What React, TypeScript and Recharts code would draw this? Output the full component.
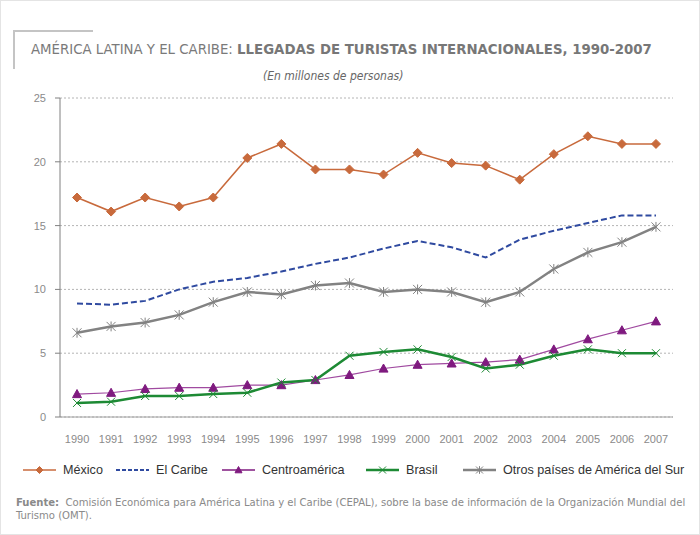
import React from 'react';
import { LineChart, Line, XAxis, YAxis, CartesianGrid } from 'recharts';

// Llegadas de turistas internacionales (millones de personas)
const years = ['1990', '1991', '1992', '1993', '1994', '1995', '1996', '1997', '1998', '1999', '2000', '2001', '2002', '2003', '2004', '2005', '2006', '2007'];
const mexico = [17.2, 16.1, 17.2, 16.5, 17.2, 20.3, 21.4, 19.4, 19.4, 19.0, 20.7, 19.9, 19.7, 18.6, 20.6, 22.0, 21.4, 21.4];
const caribe = [8.9, 8.8, 9.1, 10.0, 10.6, 10.9, 11.4, 12.0, 12.5, 13.2, 13.8, 13.3, 12.5, 13.9, 14.6, 15.2, 15.8, 15.8];
const centroamerica = [1.8, 1.9, 2.2, 2.3, 2.3, 2.5, 2.5, 2.9, 3.3, 3.8, 4.1, 4.2, 4.3, 4.5, 5.3, 6.1, 6.8, 7.5];
const brasil = [1.1, 1.2, 1.65, 1.65, 1.8, 1.9, 2.7, 2.9, 4.8, 5.1, 5.3, 4.7, 3.8, 4.1, 4.8, 5.3, 5.0, 5.0];
const otros = [6.6, 7.1, 7.4, 8.0, 9.0, 9.8, 9.6, 10.3, 10.5, 9.8, 10.0, 9.8, 9.0, 9.8, 11.6, 12.9, 13.7, 14.9];
const yTicks = [0, 5, 10, 15, 20, 25];
const edgeTicks = Array.from({ length: years.length + 1 }, (_, i) => i);

const data = years.map((year, i) => ({
  year,
  mexico: mexico[i],
  caribe: caribe[i],
  centroamerica: centroamerica[i],
  brasil: brasil[i],
  otros: otros[i],
}));

const C_MEX = '#c86a3c';
const C_CAR = '#2f4aa0';
const C_CEN = '#7f1a7f';
const C_BRA = '#1d8a34';
const C_OTR = '#828282';

const FONT = '"Liberation Sans", Arial, sans-serif';
const FONT2 = '"DejaVu Sans Condensed", "DejaVu Sans", sans-serif';

// marker shapes
const Diamond = ({ cx, cy, r = 4.5, color }: any) => (
  <path d={`M${cx},${cy - r}L${cx + r},${cy}L${cx},${cy + r}L${cx - r},${cy}Z`} fill={color} stroke={color} />
);
const Triangle = ({ cx, cy, r = 4.5, color }: any) => (
  <path d={`M${cx},${cy - r}L${cx + r},${cy + r * 0.8}L${cx - r},${cy + r * 0.8}Z`} fill={color} stroke={color} />
);
const Cross = ({ cx, cy, r = 4, color }: any) => (
  <path d={`M${cx - r},${cy - r}L${cx + r},${cy + r}M${cx - r},${cy + r}L${cx + r},${cy - r}`} stroke={color} strokeWidth={1} fill="none" />
);
const Star = ({ cx, cy, r = 4.5, color }: any) => (
  <path
    d={`M${cx - r},${cy - r}L${cx + r},${cy + r}M${cx - r},${cy + r}L${cx + r},${cy - r}M${cx},${cy - r * 1.1}L${cx},${cy + r * 1.1}`}
    stroke={color}
    strokeWidth={1}
    fill="none"
  />
);

const dot = (Shape: any, color: string) => (p: any) => <Shape key={p.index} cx={p.cx} cy={p.cy} color={color} />;

const legendItems = [
  { label: 'México', color: C_MEX, shape: Diamond, width: 1.5, dash: undefined, x: 22 },
  { label: 'El Caribe', color: C_CAR, shape: null, width: 2, dash: '4 2', x: 115 },
  { label: 'Centroamérica', color: C_CEN, shape: Triangle, width: 1.5, dash: undefined, x: 221 },
  { label: 'Brasil', color: C_BRA, shape: Cross, width: 2.5, dash: undefined, x: 365 },
  { label: 'Otros países de América del Sur', color: C_OTR, shape: Star, width: 2.5, dash: undefined, x: 462 },
];

export default function App() {
  return (
    <div style={{ position: 'absolute', left: 0, top: 0, width: 698, height: 533, border: '1px solid #e4e4e4', background: '#fff', overflow: 'hidden' }}>
      {/* title frame */}
      <div style={{ position: 'absolute', left: 12, top: 29, width: 78, height: 37, borderLeft: '2px solid #c4c4c4', borderTop: '2px solid #c4c4c4' }} />
      <div style={{ position: 'absolute', left: 30, top: 39, fontFamily: FONT2, fontSize: 14.8, color: '#7a7a7a', whiteSpace: 'nowrap' }}>
        AMÉRICA LATINA Y EL CARIBE: <b style={{ color: '#777' }}>LLEGADAS DE TURISTAS INTERNACIONALES, 1990-2007</b>
      </div>
      <div style={{ position: 'absolute', left: 262, top: 68, fontFamily: FONT2, fontStyle: 'italic', fontSize: 12, color: '#666', whiteSpace: 'nowrap' }}>
        (En millones de personas)
      </div>

      <div style={{ position: 'absolute', left: 0, top: 0 }}>
        <LineChart width={700} height={460} data={data} margin={{ top: 97, right: 28, bottom: 0, left: 0 }}>
          <CartesianGrid vertical={false} stroke="#b4b4b4" strokeDasharray="2 2" />
          <XAxis
            xAxisId="edges"
            type="number"
            domain={[0, years.length]}
            ticks={edgeTicks}
            tick={false}
            axisLine={false}
            tickLine={{ stroke: '#a0a0a0' }}
            tickSize={5}
            height={0}
          />
          <XAxis
            dataKey="year"
            scale="band"
            interval={0}
            tickLine={false}
            tickSize={0}
            tickMargin={18}
            height={44}
            axisLine={{ stroke: '#a0a0a0' }}
            tick={{ fill: '#8a8a8a', fontSize: 11, fontFamily: FONT }}
          />
          <YAxis
            domain={[0, 25]}
            ticks={yTicks}
            width={59}
            tickSize={5}
            tickMargin={9}
            axisLine={{ stroke: '#808080' }}
            tickLine={{ stroke: '#808080' }}
            tick={{ fill: '#8a8a8a', fontSize: 11, fontFamily: FONT }}
          />
          <Line dataKey="mexico" stroke={C_MEX} strokeWidth={1.5} dot={dot(Diamond, C_MEX)} isAnimationActive={false} />
          <Line dataKey="caribe" stroke={C_CAR} strokeWidth={2} strokeDasharray="6 3" dot={false} isAnimationActive={false} />
          <Line dataKey="otros" stroke={C_OTR} strokeWidth={2.5} dot={dot(Star, C_OTR)} isAnimationActive={false} />
          <Line dataKey="centroamerica" stroke="#a04aa0" strokeWidth={1.2} dot={dot(Triangle, C_CEN)} isAnimationActive={false} />
          <Line dataKey="brasil" stroke={C_BRA} strokeWidth={2.5} dot={dot(Cross, C_BRA)} isAnimationActive={false} />
        </LineChart>
      </div>

      {/* legend */}
      {legendItems.map((it) => {
        const Shape = it.shape as any;
        return (
          <div key={it.label} style={{ position: 'absolute', left: it.x, top: 461, height: 16, display: 'flex', alignItems: 'center', whiteSpace: 'nowrap' }}>
            <svg width={34} height={16}>
              <line x1={0} y1={8} x2={33} y2={8} stroke={it.color} strokeWidth={it.width} strokeDasharray={it.dash} />
              {Shape && <Shape cx={16.5} cy={8} r={3.5} color={it.color} />}
            </svg>
            <span style={{ marginLeft: 6, fontFamily: FONT, fontSize: 12.6, color: '#333' }}>{it.label}</span>
          </div>
        );
      })}

      {/* source */}
      <div style={{ position: 'absolute', left: 15, top: 495, width: 685, fontFamily: FONT2, fontSize: 11.2, color: '#8a8a8a', lineHeight: '13px', whiteSpace: 'nowrap' }}>
        <b>Fuente:</b>&nbsp; Comisión Económica para América Latina y el Caribe (CEPAL), sobre la base de información de la Organización Mundial del
        <br />
        Turismo (OMT).
      </div>
    </div>
  );
}
